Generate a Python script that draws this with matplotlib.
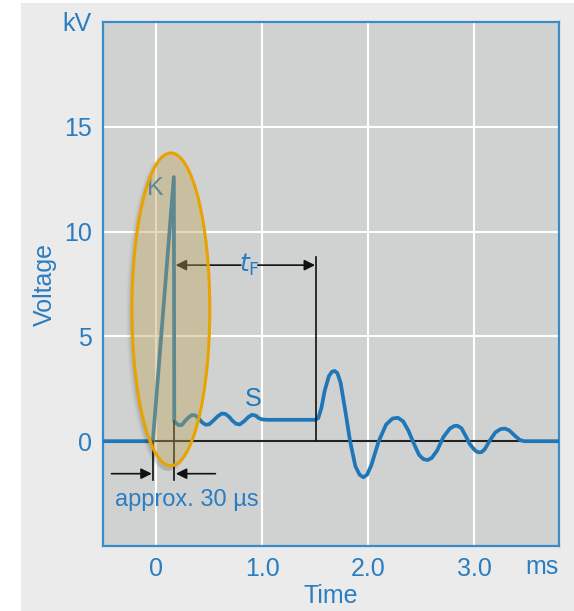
import matplotlib
matplotlib.use("Agg")
import numpy as np
import matplotlib.pyplot as plt
from matplotlib.patches import Ellipse, PathPatch
from matplotlib.path import Path
import matplotlib.transforms as mtransforms

plt.rcParams['font.family'] = ['Liberation Sans', 'DejaVu Sans']

# ---- data ----
time_ms = [-0.5, -0.03, 0.168, 0.172, 0.19, 0.215, 0.245, 0.28, 0.31, 0.34, 0.37,
           0.40, 0.43, 0.465, 0.50, 0.54, 0.58, 0.62, 0.655, 0.69, 0.72, 0.755,
           0.79, 0.83, 0.87, 0.905, 0.94, 0.97, 1.0, 1.05, 1.50, 1.53, 1.56, 1.59,
           1.63, 1.66, 1.685, 1.71, 1.74, 1.78, 1.83, 1.88, 1.92, 1.955, 1.99, 2.03,
           2.1, 2.17, 2.23, 2.28, 2.33, 2.38, 2.43, 2.48, 2.52, 2.56, 2.60, 2.65,
           2.71, 2.77, 2.81, 2.84, 2.88, 2.92, 2.96, 3.01, 3.04, 3.07, 3.10,
           3.15, 3.20, 3.25, 3.29, 3.33, 3.38, 3.43, 3.47, 3.8]
voltage_kv = [0.0, 0.0, 12.6, 0.95, 0.86, 0.76, 0.78, 1.0, 1.15, 1.25, 1.23,
              1.1, 0.92, 0.79, 0.8, 0.98, 1.18, 1.32, 1.3, 1.16, 0.98, 0.83,
              0.8, 0.95, 1.15, 1.26, 1.22, 1.1, 1.04, 1.02, 1.02, 1.1, 1.6, 2.4,
              3.1, 3.32, 3.35, 3.25, 2.8, 1.6, 0.0, -1.2, -1.6, -1.72, -1.6, -1.15,
              0.0, 0.8, 1.08, 1.12, 0.95, 0.5, -0.1, -0.65, -0.85, -0.9, -0.8, -0.45,
              0.2, 0.6, 0.72, 0.74, 0.62, 0.25, -0.15, -0.45, -0.53, -0.52, -0.38,
              0.05, 0.42, 0.58, 0.6, 0.52, 0.28, 0.06, 0.0, 0.0]

x_ticks = [0, 1, 2, 3]
x_tick_labels = ['0', '1.0', '2.0', '3.0']
y_ticks = [0, 5, 10, 15, 20]
y_tick_labels = ['0', '5', '10', '15', 'kV']

tf_start, tf_end, tf_level, tf_top = 0.185, 1.51, 8.4, 8.8
spike_start, spike_end = -0.03, 0.172

BLUE = '#1f77b8'
TXT = '#2a7dc0'
SPINE = '#3b8cc6'

fig = plt.figure(figsize=(5.74, 6.11), dpi=100, facecolor='white')
bg = fig.add_axes([21/574, 0, 1 - 21/574, 1 - 3/611], zorder=-10)
bg.set_facecolor('#ebebeb')
bg.set_xticks([]); bg.set_yticks([])
for s in bg.spines.values():
    s.set_visible(False)

ax = fig.add_axes([103/574, 1 - 546/611, (559 - 103)/574, (546 - 22)/611], zorder=1)
ax.set_facecolor('#d0d2d2')
ax.set_xlim(-0.5, 3.8)
ax.set_ylim(-5, 20)

for s in ax.spines.values():
    s.set_color(SPINE)
    s.set_linewidth(1.6)

ax.set_xticks(x_ticks)
ax.set_xticklabels(x_tick_labels)
ax.set_yticks(y_ticks)
ax.set_yticklabels(y_tick_labels)
ax.tick_params(length=0, colors=TXT, labelsize=18, pad=8)
ax.grid(True, color='white', linewidth=1.5, zorder=0)
ax.set_axisbelow(True)

ax.set_ylabel('Voltage', color=TXT, fontsize=18, labelpad=4)
ax.set_xlabel('Time', color=TXT, fontsize=18, labelpad=2)

# ms label
trans = mtransforms.blended_transform_factory(ax.transData, ax.transAxes)
ax.text(3.64, -0.017, 'ms', transform=trans, ha='center', va='top',
        color=TXT, fontsize=18)

# zero line
ax.axhline(0, color='#222222', linewidth=1.5, zorder=2)

# waveform
ax.plot(time_ms, voltage_kv, color=BLUE, linewidth=2.7, solid_joinstyle='round',
        solid_capstyle='round', zorder=3)

# t_F marker
ax.plot([tf_end, tf_end], [0, tf_top], color='#111111', linewidth=1.2, zorder=4)
ax.annotate('', xy=(tf_start, tf_level), xytext=(0.80, tf_level),
            arrowprops=dict(arrowstyle='-|>', color='#111111', lw=1.2,
                            mutation_scale=16, shrinkA=0, shrinkB=0), zorder=4)
ax.annotate('', xy=(tf_end - 0.01, tf_level), xytext=(0.96, tf_level),
            arrowprops=dict(arrowstyle='-|>', color='#111111', lw=1.2,
                            mutation_scale=16, shrinkA=0, shrinkB=0), zorder=4)
ax.text(0.885, tf_level, r'$\mathit{t}_{\mathrm{F}}$', color=TXT, fontsize=18,
        ha='center', va='center', zorder=5)

# approx 30 us marker
ax.plot([spike_start, spike_start], [0, -1.85], color='#111111', lw=1.2, zorder=4)
ax.plot([spike_end, spike_end], [0.95, -1.85], color='#111111', lw=1.2, zorder=4)
ax.annotate('', xy=(spike_start - 0.01, -1.55), xytext=(-0.42, -1.55),
            arrowprops=dict(arrowstyle='-|>', color='#111111', lw=1.2,
                            mutation_scale=16, shrinkA=0, shrinkB=0), zorder=4)
ax.annotate('', xy=(spike_end + 0.015, -1.55), xytext=(0.56, -1.55),
            arrowprops=dict(arrowstyle='-|>', color='#111111', lw=1.2,
                            mutation_scale=16, shrinkA=0, shrinkB=0), zorder=4)
ax.text(-0.39, -2.8, 'approx. 30 µs', color=TXT, fontsize=17, ha='left', va='center')

# labels K and S
ax.text(-0.01, 12.1, 'K', color=BLUE, fontsize=18, ha='center', va='center', zorder=3)
ax.text(0.92, 2.0, 'S', color=BLUE, fontsize=18, ha='center', va='center', zorder=3)

# highlight ellipse with soft shadow outside it
ecx, ecy, ew, eh = 0.14, 6.29, 0.734, 14.92
th = np.linspace(0, 2 * np.pi, 240)
ell_verts = np.column_stack([ecx + ew / 2 * np.cos(th[::-1]), ecy + eh / 2 * np.sin(th[::-1])])
rect_verts = np.array([[-2, -20], [6, -20], [6, 40], [-2, 40], [-2, -20]])
clip = Path.make_compound_path(Path(rect_verts, closed=True), Path(ell_verts, closed=True))
clip_patch = PathPatch(clip, transform=ax.transData, facecolor='none', edgecolor='none')
for dx, dw, a in [(-0.045, 0.02, 0.025), (-0.035, 0.015, 0.035), (-0.025, 0.01, 0.045),
                  (-0.015, 0.005, 0.06)]:
    sh = Ellipse((ecx + dx, ecy - 0.15), ew + dw, eh + 0.2, facecolor='black',
                 edgecolor='none', alpha=a, zorder=5)
    ax.add_patch(sh)
    sh.set_clip_path(clip_patch)
ax.add_patch(Ellipse((ecx, ecy), ew, eh, facecolor='#bca255',
                     edgecolor='none', alpha=0.4, zorder=6))
ax.add_patch(Ellipse((ecx, ecy), ew, eh, facecolor='none',
                     edgecolor='#e8a300', linewidth=2.2, zorder=7))

fig.savefig('out.png', dpi=100, facecolor='white')
